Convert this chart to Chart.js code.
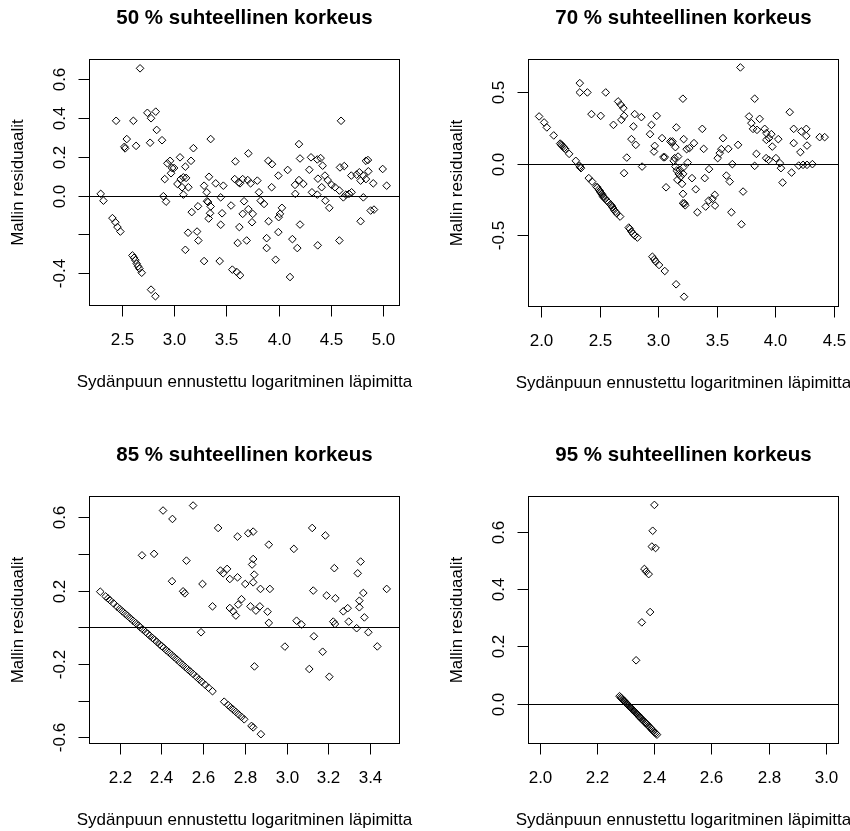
<!DOCTYPE html>
<html>
<head>
<meta charset="utf-8">
<script src="https://cdn.jsdelivr.net/npm/chart.js@4.4.1/dist/chart.umd.min.js"></script>
<style>
  body { margin: 0; background: #fff; width: 850px; height: 831px; overflow: hidden; position: relative; }
  .panel { position: absolute; }
</style>
</head>
<body>
<div class="panel" id="w1"><canvas id="c1"></canvas></div>
<div class="panel" id="w2"><canvas id="c2"></canvas></div>
<div class="panel" id="w3"><canvas id="c3"></canvas></div>
<div class="panel" id="w4"><canvas id="c4"></canvas></div>
<script>
// --- data (luettu kuvasta) ---
const xTitle = 'Sydänpuun ennustettu logaritminen läpimitta';
const yTitle = 'Mallin residuaalit';
const titles = ['50 % suhteellinen korkeus', '70 % suhteellinen korkeus', '85 % suhteellinen korkeus', '95 % suhteellinen korkeus'];

// 50 %
const p1X = [2.675,2.446,2.611,2.745,2.825,2.780,2.834,2.885,2.771,2.637,2.548,2.525,2.532,
  2.299,2.325,2.411,2.439,2.459,2.487,2.602,2.618,2.631,2.643,2.656,2.669,2.691,2.780,2.822,
  2.898,2.924,2.911,2.936,2.962,2.981,3.000,2.971,3.057,3.032,3.064,3.089,3.115,3.076,3.089,3.137,3.108,3.162,3.185,3.169,3.134,3.108,
  3.220,3.232,3.229,3.287,3.334,3.350,3.312,3.315,3.325,3.350,3.344,3.331,3.287,3.398,3.471,3.446,3.459,3.446,3.436,3.545,3.557,3.599,3.631,
  3.580,3.586,3.618,3.630,3.656,3.710,3.704,3.732,3.796,3.812,3.669,3.656,3.624,3.608,3.694,3.710,3.752,3.745,3.828,3.860,3.901,3.936,3.933,
  3.997,4.086,3.904,3.885,3.885,3.971,4.000,4.012,4.031,3.997,4.131,4.178,4.108,4.194,4.204,4.156,4.194,4.236,4.159,4.204,4.293,
  4.596,4.309,4.369,4.401,4.420,4.375,4.442,4.468,4.506,4.411,4.369,4.318,4.446,4.484,4.538,4.580,4.586,4.627,4.618,4.643,4.672,4.697,
  4.694,4.745,4.771,4.783,4.834,4.853,4.809,4.834,4.857,4.904,4.994,5.032,4.809,4.783,4.879,4.911,4.580,4.373];
const p1Y = [0.655,0.385,0.385,0.426,0.432,0.398,0.338,0.285,0.272,0.256,0.291,0.251,0.243,
  0.009,-0.026,-0.116,-0.137,-0.162,-0.185,-0.308,-0.320,-0.333,-0.350,-0.364,-0.376,-0.397,-0.484,-0.518,
  -0.003,-0.031,0.085,0.166,0.179,0.142,0.142,0.115,0.197,0.060,0.085,0.094,0.091,0.043,0.005,0.043,0.149,0.179,0.244,-0.085,-0.191,-0.279,
  -0.185,-0.231,-0.055,0.051,0.097,0.291,0.017,-0.029,-0.033,-0.056,-0.091,-0.118,-0.337,0.063,0.051,-0.009,-0.091,-0.150,-0.337,-0.051,-0.381,-0.393,-0.410,
  0.085,0.176,0.068,0.063,0.085,0.217,0.080,0.063,0.077,0.017,-0.029,-0.094,-0.162,-0.244,-0.231,-0.070,-0.094,-0.137,-0.026,-0.043,0.179,0.162,0.043,
  0.103,0.132,-0.132,-0.219,-0.270,-0.330,-0.111,-0.094,-0.063,-0.188,-0.224,-0.270,-0.419,0.265,0.191,0.055,0.080,0.060,0.009,-0.149,0.133,
  0.385,0.197,0.186,0.193,0.154,0.087,0.103,0.080,0.055,0.043,0.005,0.017,-0.026,-0.063,0.043,0.026,0.145,0.152,-0.009,0.005,0.009,0.017,
  0.103,0.108,0.120,0.077,0.179,0.183,0.103,0.085,0.125,0.063,0.137,0.051,-0.009,-0.132,-0.077,-0.072,-0.231,-0.256];
const p1XTicks = [2.5, 3.0, 3.5, 4.0, 4.5, 5.0];
const p1YTicks = [-0.4, -0.2, 0.0, 0.2, 0.4, 0.6];
const p1YLabels = ['-0.4', '', '0.0', '0.2', '0.4', '0.6'];

// 70 %
const p2X = [1.980,2.023,2.046,2.105,2.160,2.168,2.175,2.185,2.195,2.205,2.237,2.294,2.325,2.331,2.338,2.405,2.433,2.470,2.479,2.490,
  2.500,2.507,2.515,2.522,2.527,2.535,2.547,2.560,2.576,2.590,2.599,2.610,2.621,2.632,2.644,2.673,2.747,2.755,2.770,2.785,2.798,2.821,
  2.949,2.965,2.978,3.006,3.055,3.152,3.220,
  2.328,2.328,2.393,2.550,2.656,2.678,2.701,2.707,2.684,2.616,2.428,2.507,2.798,2.855,2.787,2.770,2.807,2.730,2.707,2.861,
  2.941,2.986,2.929,2.969,2.963,3.032,3.043,3.055,3.103,3.112,3.146,3.154,3.210,3.066,3.140,3.169,
  3.146,3.157,3.174,3.192,3.163,3.203,3.211,3.211,3.131,3.212,3.183,3.212,3.251,3.223,3.121,3.217,3.242,3.265,3.305,3.376,3.388,
  3.702,3.824,4.124,3.776,3.867,3.796,3.810,3.844,3.910,3.924,3.967,3.947,3.924,3.975,4.026,4.158,4.223,4.266,4.266,4.158,4.272,4.215,
  4.380,4.423,3.839,3.824,3.922,3.944,4.006,4.040,4.049,4.140,4.063,4.201,4.238,4.272,4.318,3.725,3.711,3.625,3.582,3.611,3.633,3.682,
  3.599,3.553,3.539,3.525,3.508,3.434,3.397,3.483,3.463,3.431,3.405,3.334,3.485,3.320,3.288,3.230];
const p2Y = [0.332,0.290,0.255,0.199,0.142,0.136,0.128,0.121,0.111,0.103,0.070,0.021,-0.013,-0.023,-0.030,-0.100,-0.124,-0.160,-0.166,-0.180,
  -0.190,-0.201,-0.210,-0.218,-0.229,-0.236,-0.245,-0.258,-0.271,-0.285,-0.292,-0.306,-0.322,-0.334,-0.346,-0.369,-0.446,-0.455,-0.474,-0.490,-0.502,-0.516,
  -0.650,-0.668,-0.685,-0.708,-0.750,-0.843,-0.930,
  0.565,0.500,0.500,0.500,0.437,0.414,0.390,0.336,0.308,0.273,0.348,0.336,0.348,0.327,0.262,0.173,0.133,0.044,-0.065,-0.019,
  0.273,0.336,0.208,0.126,0.086,0.180,0.047,0.047,0.157,0.150,0.117,0.255,0.456,-0.164,0.040,0.051,
  -0.019,-0.047,-0.070,-0.089,-0.112,-0.140,-0.210,-0.276,0.021,-0.026,-0.042,-0.070,0.009,-0.276,0.157,0.173,0.103,0.110,0.145,0.245,0.105,
  0.675,0.456,0.362,0.332,0.315,0.285,0.245,0.238,0.245,0.215,0.208,0.180,0.168,0.121,0.173,0.245,0.227,0.245,0.196,0.145,0.128,0.082,
  0.187,0.187,0.070,-0.014,0.040,0.028,0.040,0.005,-0.030,-0.061,-0.131,-0.012,-0.007,-0.007,-0.002,-0.194,-0.423,-0.339,-0.082,-0.124,-0.002,0.133,
  0.105,0.180,0.103,0.075,0.040,-0.037,-0.100,-0.217,-0.245,-0.257,-0.299,-0.339,-0.292,-0.178,-0.100,-0.290];
const p2XTicks = [2.0, 2.5, 3.0, 3.5, 4.0, 4.5];
const p2YTicks = [-0.5, 0.0, 0.5];
const p2YLabels = ['-0.5', '0.0', '0.5'];

// 85 %
const p3X = [2.107,2.133,2.144,2.155,2.171,2.187,2.200,2.213,2.226,2.238,2.251,2.264,2.277,2.290,2.299,2.312,2.325,2.334,2.344,2.357,
  2.368,2.379,2.392,2.402,2.411,2.424,2.437,2.450,2.462,2.475,2.488,2.501,2.514,2.526,2.539,2.552,2.568,2.581,2.594,2.610,2.626,2.645,
  2.701,2.720,2.731,2.744,2.757,2.770,2.784,2.797,2.832,2.840,2.877,
  2.552,2.408,2.453,2.672,2.765,2.816,2.840,2.915,2.307,2.365,2.520,2.840,2.835,2.845,2.840,2.802,2.765,2.728,2.715,2.683,2.696,
  2.451,2.597,2.504,2.512,2.875,2.920,2.645,2.728,2.744,2.757,2.768,2.784,2.827,2.853,2.872,2.909,2.915,2.590,2.846,2.992,
  3.123,3.186,3.035,3.355,3.229,3.341,3.480,3.128,3.192,3.234,3.368,3.349,3.349,3.293,3.272,3.373,3.298,3.224,3.232,3.336,3.392,
  3.048,3.072,3.131,3.173,3.435,3.109,3.205];
const p3Y = [0.194,0.168,0.157,0.146,0.130,0.113,0.100,0.087,0.074,0.062,0.049,0.036,0.023,0.010,0.000,-0.013,-0.026,-0.035,-0.045,-0.058,
  -0.069,-0.080,-0.093,-0.103,-0.112,-0.125,-0.138,-0.151,-0.163,-0.176,-0.190,-0.203,-0.216,-0.228,-0.241,-0.254,-0.270,-0.284,-0.297,-0.313,-0.329,-0.348,
  -0.405,-0.424,-0.435,-0.448,-0.461,-0.474,-0.488,-0.501,-0.537,-0.545,-0.582,
  0.663,0.636,0.590,0.541,0.494,0.512,0.521,0.450,0.392,0.400,0.363,0.372,0.342,0.287,0.245,0.236,0.272,0.263,0.318,0.309,0.294,
  0.251,0.236,0.196,0.185,0.209,0.209,0.114,0.105,0.087,0.064,0.124,0.153,0.114,0.091,0.114,0.085,0.024,-0.027,-0.213,-0.105,
  0.541,0.500,0.427,0.358,0.322,0.294,0.209,0.200,0.173,0.158,0.187,0.145,0.109,0.104,0.087,0.054,0.031,0.031,0.018,-0.005,-0.027,
  0.036,0.015,-0.049,-0.133,-0.104,-0.227,-0.269];
const p3XTicks = [2.2, 2.4, 2.6, 2.8, 3.0, 3.2, 3.4];
const p3YTicks = [-0.6, -0.4, -0.2, 0.0, 0.2, 0.4, 0.6];
const p3YLabels = ['-0.6', '', '-0.2', '', '0.2', '', '0.6'];

// 95 %
const p4X = [2.401,2.395,2.392,2.405,2.366,2.372,2.381,2.386,2.357,2.337,
  2.279,2.283,2.286,2.289,2.292,2.295,2.298,2.301,2.304,2.307,2.310,2.313,2.316,2.319,2.322,2.325,2.328,2.331,2.334,2.337,
  2.340,2.343,2.346,2.349,2.352,2.356,2.360,2.364,2.368,2.371,2.374,2.378,2.382,2.386,2.390,2.394,2.398,2.402,2.406,2.410];
const p4Y = [0.693,0.603,0.548,0.543,0.470,0.461,0.452,0.320,0.284,0.152,
  0.027,0.023,0.020,0.017,0.014,0.011,0.008,0.004,0.001,-0.002,-0.005,-0.008,-0.011,-0.014,-0.017,-0.020,-0.023,-0.026,-0.029,-0.032,
  -0.035,-0.038,-0.042,-0.045,-0.048,-0.052,-0.056,-0.060,-0.064,-0.067,-0.070,-0.074,-0.078,-0.082,-0.087,-0.091,-0.095,-0.099,-0.103,-0.107];
const p4XTicks = [2.0, 2.2, 2.4, 2.6, 2.8, 3.0];
const p4YTicks = [0.0, 0.2, 0.4, 0.6];
const p4YLabels = ['0.0', '0.2', '0.4', '0.6'];

// R-tyyliset akselit, laatikko ja otsikot
const FONT = '"Liberation Sans", Arial, sans-serif';
const rAxes = {
  id: 'rAxes',
  afterDraw(chart, args, o) {
    const ctx = chart.ctx, a = chart.chartArea;
    const xs = chart.scales.x, ys = chart.scales.y;
    const L = Math.round(a.left) + 0.5, R = Math.round(a.right) + 0.5;
    const T = Math.round(a.top) + 0.5, B = Math.round(a.bottom) + 0.5;
    ctx.save();
    ctx.strokeStyle = '#000';
    ctx.fillStyle = '#000';
    ctx.lineWidth = 1;

    // abline(h = 0)
    const y0 = Math.round(ys.getPixelForValue(0)) + 0.5;
    ctx.beginPath();
    ctx.moveTo(L, y0);
    ctx.lineTo(R, y0);
    ctx.stroke();

    ctx.strokeRect(L, T, R - L, B - T);

    ctx.font = '17px ' + FONT;
    ctx.textAlign = 'center';
    ctx.textBaseline = 'middle';
    o.xTicks.forEach(v => {
      const px = Math.round(xs.getPixelForValue(v)) + 0.5;
      ctx.beginPath();
      ctx.moveTo(px, B);
      ctx.lineTo(px, B + 11);
      ctx.stroke();
      ctx.fillText(v.toFixed(1), px, B + 35);
    });
    o.yTicks.forEach((v, i) => {
      const py = Math.round(ys.getPixelForValue(v)) + 0.5;
      ctx.beginPath();
      ctx.moveTo(L - 11, py);
      ctx.lineTo(L, py);
      ctx.stroke();
      if (!o.yLabels[i]) return;
      ctx.save();
      ctx.translate(L - 29, py);
      ctx.rotate(-Math.PI / 2);
      ctx.fillText(o.yLabels[i], 0, 0);
      ctx.restore();
    });

    const cx = (L + R) / 2, cy = (T + B) / 2;
    ctx.fillText(xTitle, cx, B + 77);
    ctx.save();
    ctx.translate(L - 71, cy);
    ctx.rotate(-Math.PI / 2);
    ctx.fillText(yTitle, 0, 0);
    ctx.restore();

    ctx.font = 'bold 20.5px ' + FONT;
    ctx.fillText(o.title, cx, T - 41);
    ctx.restore();
  }
};

const panels = [
  { id: 1, wrap: [0, 0, 425, 415], box: [89, 59, 399, 305], xr: [2.187, 5.150], yr: [-0.563, 0.703],
    xs: p1X, ys: p1Y, xTicks: p1XTicks, yTicks: p1YTicks, yLabels: p1YLabels },
  { id: 2, wrap: [425, 0, 425, 415], box: [528, 59, 838, 306], xr: [1.885, 4.537], yr: [-0.995, 0.734],
    xs: p2X, ys: p2Y, xTicks: p2XTicks, yTicks: p2YTicks, yLabels: p2YLabels },
  { id: 3, wrap: [0, 415, 425, 416], box: [89, 496, 399, 743], xr: [2.053, 3.539], yr: [-0.630, 0.715],
    xs: p3X, ys: p3Y, xTicks: p3XTicks, yTicks: p3YTicks, yLabels: p3YLabels },
  { id: 4, wrap: [425, 415, 425, 416], box: [528, 496, 838, 743], xr: [1.959, 3.043], yr: [-0.136, 0.724],
    xs: p4X, ys: p4Y, xTicks: p4XTicks, yTicks: p4YTicks, yLabels: p4YLabels }
];

panels.forEach((p, k) => {
  const [wl, wt, ww, wh] = p.wrap;
  const [bl, bt, br, bb] = p.box;
  const wrap = document.getElementById('w' + p.id);
  wrap.style.left = wl + 'px';
  wrap.style.top = wt + 'px';
  const canvas = document.getElementById('c' + p.id);
  canvas.width = ww;
  canvas.height = wh;

  new Chart(canvas, {
    type: 'scatter',
    data: {
      datasets: [{
        data: p.xs.map((x, i) => ({ x: x, y: p.ys[i] })),
        pointStyle: 'rectRot',
        pointRadius: 3.8,
        pointHoverRadius: 3.8,
        borderColor: '#000',
        borderWidth: 1,
        backgroundColor: 'rgba(0,0,0,0)'
      }]
    },
    options: {
      responsive: false,
      animation: false,
      events: [],
      layout: { padding: { left: bl - wl, top: bt - wt, right: wl + ww - br, bottom: wt + wh - bb } },
      scales: {
        x: { type: 'linear', display: false, min: p.xr[0], max: p.xr[1] },
        y: { type: 'linear', display: false, min: p.yr[0], max: p.yr[1] }
      },
      plugins: {
        legend: { display: false },
        tooltip: { enabled: false },
        rAxes: { title: titles[k], xTicks: p.xTicks, yTicks: p.yTicks, yLabels: p.yLabels }
      }
    },
    plugins: [rAxes]
  });
});
</script>
</body>
</html>
